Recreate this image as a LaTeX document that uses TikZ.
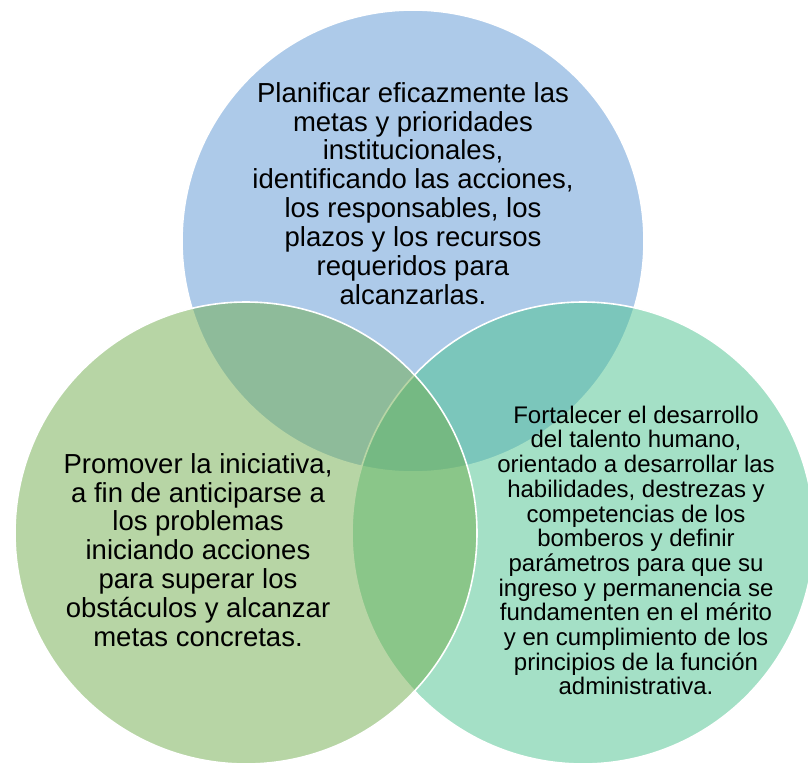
\documentclass[tikz,border=0pt]{standalone}
\usepackage{fontspec}
\setmainfont{Liberation Sans}
\definecolor{cblue}{RGB}{93,151,213}
\definecolor{cgreen}{RGB}{113,173,77}
\definecolor{cteal}{RGB}{75,195,142}
\begin{document}
\begin{tikzpicture}[x=1pt,y=-1pt,
  venn/.style={circle, minimum size=462pt, inner sep=0pt, outer sep=0pt, draw=white, line width=1.6pt, fill opacity=0.5},
  bigtext/.style={anchor=north, align=center, inner sep=0pt, text=black, font=\fontsize{27.5}{28.85}\selectfont},
  smalltext/.style={anchor=north, align=center, inner sep=0pt, text=black, font=\fontsize{24}{24.7}\selectfont}]
\useasboundingbox (0,0) rectangle (808,765);
\fill[white] (0,0) rectangle (808,765);
\clip (0,0) rectangle (808,765);
\node[venn, fill=cblue] (ctop) at (413,241) {};
\node[venn, fill=cteal] (cright) at (583,533) {};
\node[venn, fill=cgreen] (cleft) at (246,533) {};
\node[bigtext] (ttop) at (413,82) {\rule{0pt}{20pt}Planificar eficazmente las\\metas y prioridades\\institucionales,\\identificando las acciones,\\los responsables, los\\plazos y los recursos\\requeridos para\\alcanzarlas.};
\node[bigtext] (tleft) at (198,453) {\rule{0pt}{20pt}Promover la iniciativa,\\a fin de anticiparse a\\los problemas\\iniciando acciones\\para superar los\\obstáculos y alcanzar\\metas concretas.};
\node[smalltext] (tright) at (636,405) {\rule{0pt}{18pt}Fortalecer el desarrollo\\del talento humano,\\orientado a desarrollar las\\habilidades, destrezas y\\competencias de los\\bomberos y definir\\parámetros para que su\\ingreso y permanencia se\\fundamenten en el mérito\\y en cumplimiento de los\\principios de la función\\administrativa.};
\end{tikzpicture}
\end{document}
